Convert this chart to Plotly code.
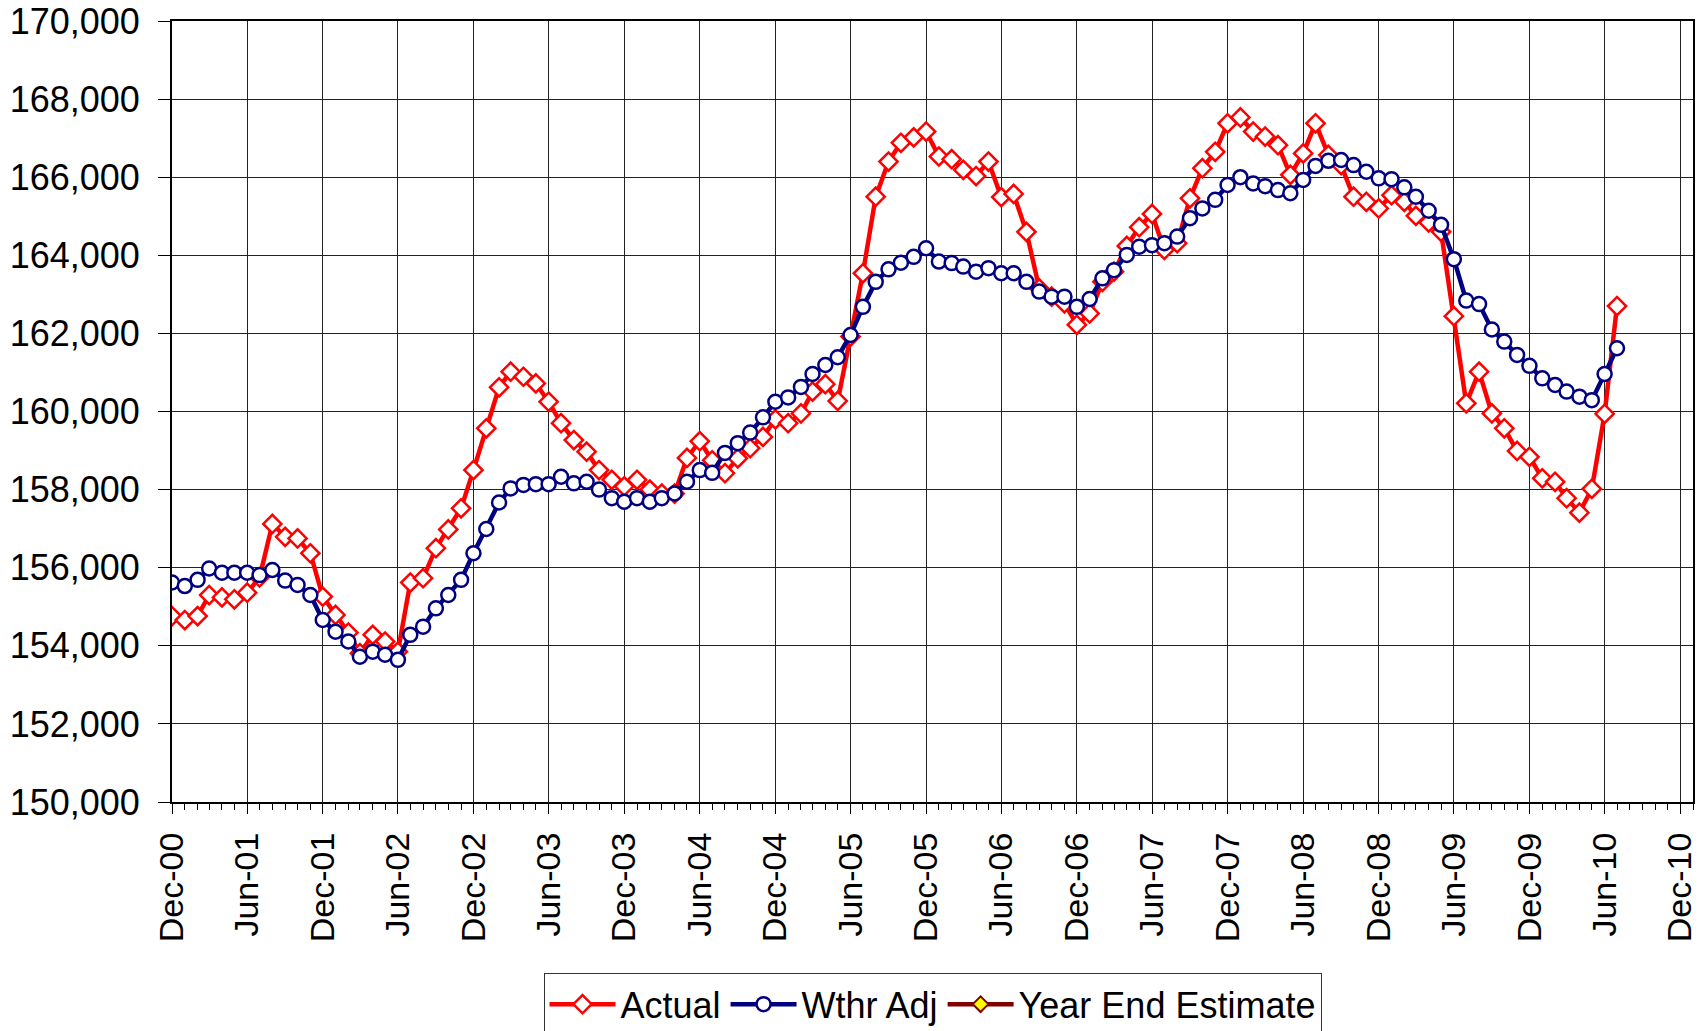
import pandas as pd
import plotly.graph_objects as go

# Monthly categories: Dec-2000 .. Jul-2010
months = pd.date_range("2000-12-01", periods=116, freq="MS")

actual = [
    154760, 154660, 154760, 155300, 155240, 155190, 155360, 155750, 157120, 156790,
    156750, 156370, 155260, 154790, 154340, 153810, 154280, 154110, 153850, 155620,
    155730, 156500, 156980, 157520, 158500, 159570, 160620, 161020, 160890, 160720,
    160250, 159700, 159270, 158970, 158500, 158250, 158080, 158250, 158000, 157900,
    157900, 158810, 159240, 158750, 158420, 158800, 159060, 159350, 159800, 159700,
    159950, 160510, 160700, 160270, 161920, 163540, 165500, 166400, 166880, 167020,
    167170, 166530, 166460, 166190, 166030, 166400, 165490, 165570, 164600, 163150,
    162940, 162770, 162220, 162510, 163320, 163580, 164240, 164720, 165060, 164140,
    164310, 165460, 166230, 166650, 167380, 167530, 167170, 167040, 166820, 166060,
    166610, 167380, 166570, 166310, 165500, 165370, 165200, 165540, 165370, 165010,
    164840, 164600, 162440, 160210, 161020, 159950, 159570, 158990, 158840, 158290,
    158200, 157780, 157410, 158020, 159940, 162700,
]

wthr_adj = [
    155620, 155530, 155690, 155980, 155870, 155870, 155870, 155810, 155940, 155670,
    155560, 155300, 154660, 154360, 154110, 153720, 153850, 153770, 153640, 154280,
    154490, 154960, 155300, 155690, 156370, 156990, 157670, 158030, 158120, 158140,
    158140, 158330, 158160, 158200, 158000, 157780, 157690, 157780, 157690, 157780,
    157900, 158200, 158500, 158430, 158940, 159190, 159460, 159850, 160250, 160360,
    160630, 160960, 161190, 161390, 161960, 162680, 163320, 163640, 163810, 163960,
    164180, 163840, 163800, 163710, 163580, 163670, 163540, 163540, 163320, 163070,
    162940, 162940, 162680, 162880, 163410, 163620, 164010, 164220, 164260, 164310,
    164480, 164950, 165200, 165420, 165800, 166000, 165840, 165770, 165670, 165590,
    165930, 166290, 166420, 166440, 166310, 166140, 165970, 165950, 165740, 165500,
    165140, 164780, 163900, 162840, 162750, 162100, 161790, 161450, 161170, 160850,
    160680, 160510, 160380, 160290, 160960, 161620,
]

# Year End Estimate has no plotted points in this view
year_end_months = [None]
year_end_estimate = [None]

FONT = "Liberation Sans, Arial, sans-serif"

fig = go.Figure()
fig.add_trace(go.Scatter(
    x=months, y=actual, name="Actual", mode="lines+markers",
    line=dict(color="#FF0000", width=4.5),
    marker=dict(symbol="diamond", size=14, color="white",
                line=dict(color="#FF0000", width=2.5)),
))
fig.add_trace(go.Scatter(
    x=months, y=wthr_adj, name="Wthr Adj", mode="lines+markers",
    line=dict(color="#000080", width=4.5),
    marker=dict(symbol="circle", size=14, color="white",
                line=dict(color="#000080", width=2.5)),
))
fig.add_trace(go.Scatter(
    x=year_end_months, y=year_end_estimate, name="Year End Estimate",
    mode="lines+markers",
    line=dict(color="#800000", width=4.5),
    marker=dict(symbol="diamond", size=12, color="#FFFF00",
                line=dict(color="#800000", width=2)),
))

fig.update_layout(
    width=1706, height=1031,
    paper_bgcolor="white", plot_bgcolor="white",
    margin=dict(l=172, r=13, t=21, b=229, autoexpand=False),
    font=dict(family=FONT, size=35, color="black"),
    showlegend=True,
    legend=dict(
        orientation="h", x=0.5, xanchor="center",
        yref="container", y=0.056, yanchor="top",
        bordercolor="#333333", borderwidth=1, bgcolor="white",
        font=dict(family=FONT, size=36, color="black"),
        traceorder="normal", itemwidth=66,
    ),
)

fig.update_xaxes(
    type="date",
    range=["2000-12-01", "2011-01-01"],
    dtick="M6", tick0="2000-12-01", tickformat="%b-%y",
    tickangle=-90,
    ticks="outside", ticklen=10, tickwidth=1, tickcolor="black",
    ticklabelstandoff=5,
    minor=dict(dtick="M1", tick0="2000-12-01", ticks="outside",
               ticklen=6, tickwidth=1, tickcolor="black", showgrid=False),
    showgrid=True, gridcolor="#222222", gridwidth=1,
    showline=True, linecolor="black", linewidth=2, mirror=True,
    zeroline=False, automargin=False,
    tickfont=dict(family=FONT, size=34, color="black"),
)

fig.update_yaxes(
    range=[150000, 170000], dtick=2000, tick0=150000,
    tickformat=",d",
    ticks="outside", ticklen=12, tickwidth=1, tickcolor="black",
    ticklabelstandoff=11,
    showgrid=True, gridcolor="#222222", gridwidth=1,
    showline=True, linecolor="black", linewidth=2, mirror=True,
    zeroline=False, automargin=False,
    tickfont=dict(family=FONT, size=36, color="black"),
)

fig.write_html(
    "out.html",
    config={"displayModeBar": False},
    post_script="document.body.style.margin='0';document.body.style.overflow='hidden';",
)
